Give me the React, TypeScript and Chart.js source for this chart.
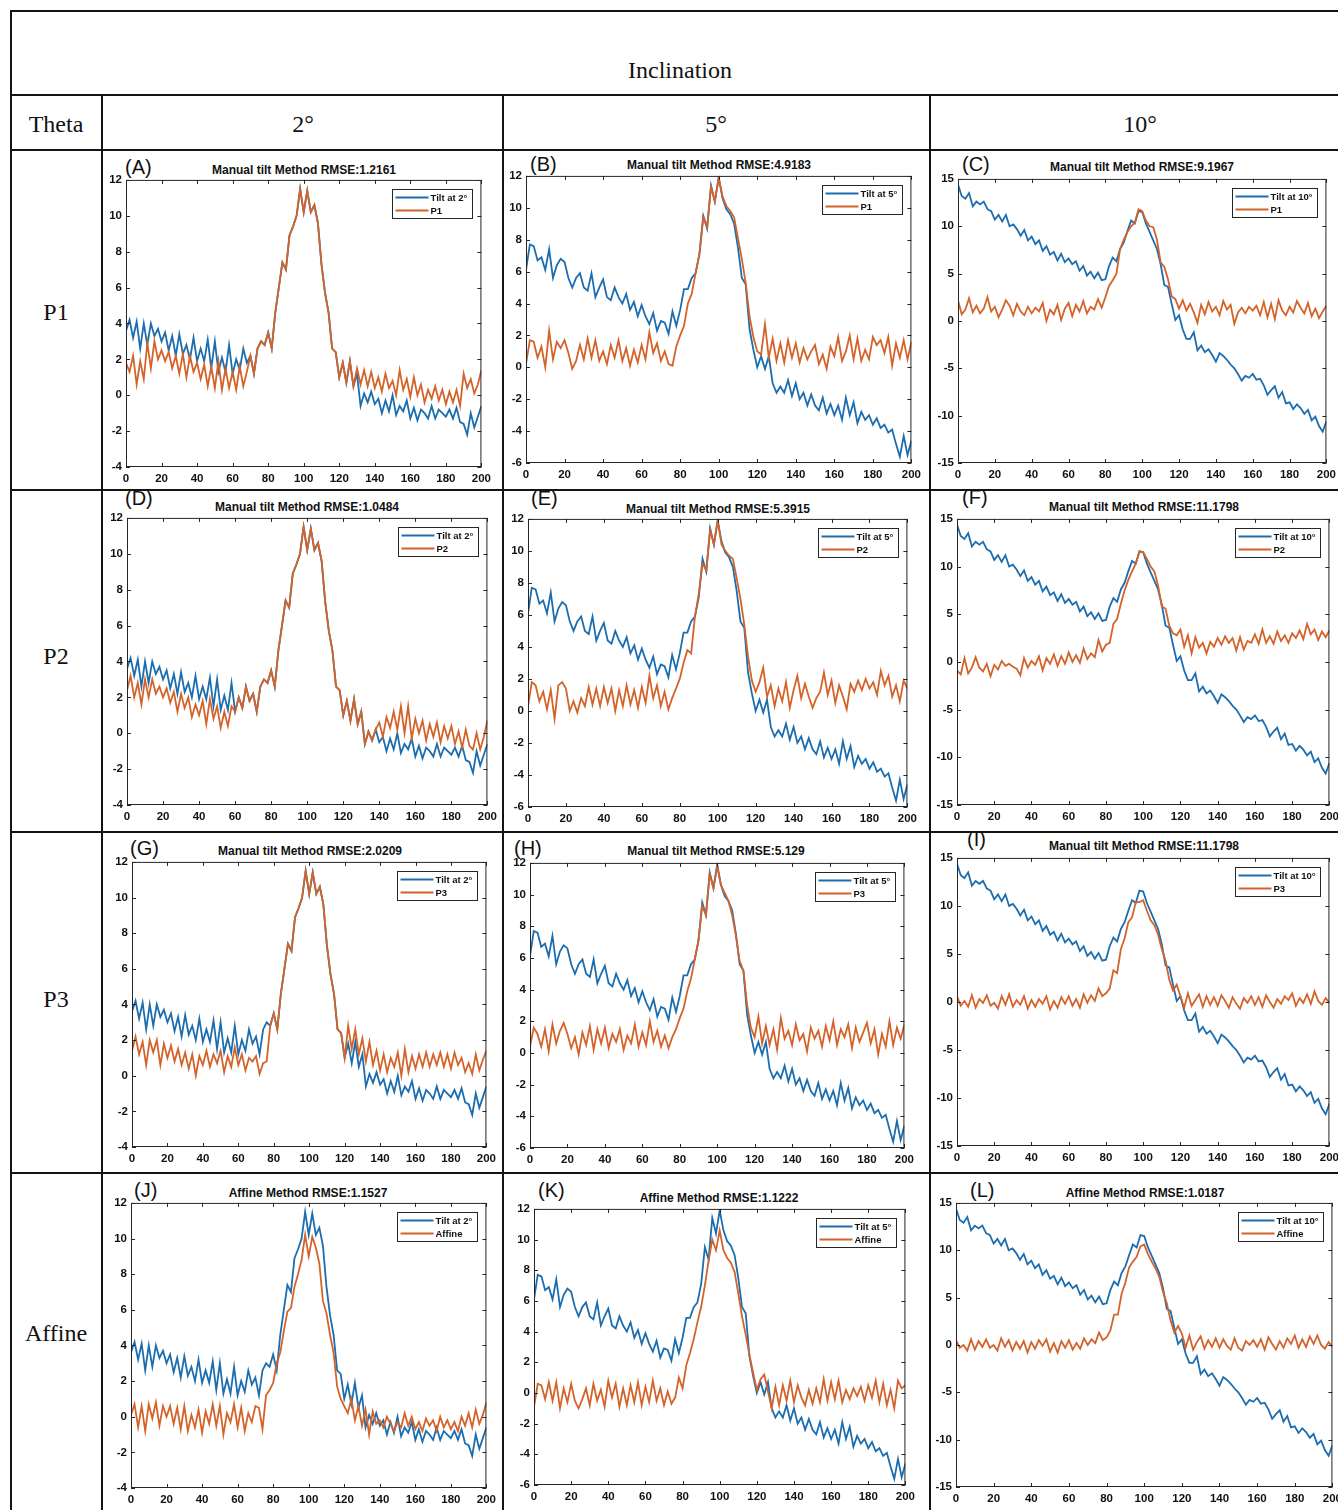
import React, { useEffect, useRef } from "react";
import { Chart, registerables } from "chart.js";

Chart.register(...registerables);

const BLUE = "#1b6daf";
const ORANGE = "#d4632a";
const AXIS = "#262626";
const SANS = '"Liberation Sans", Arial, sans-serif';
const SERIF = '"Liberation Serif", "Times New Roman", serif';

// sample positions along the profile
const X_VALUES = [
  0, 2, 4, 6, 8, 10, 12, 14, 16, 18,
  20, 22, 24, 26, 28, 30, 32, 34, 36, 38,
  40, 42, 44, 46, 48, 50, 52, 54, 56, 58,
  60, 62, 64, 66, 68, 70, 72, 74, 76, 78,
  80, 82, 84, 86, 88, 90, 92, 94, 96, 98,
  100, 102, 104, 106, 108, 110, 112, 114, 116, 118,
  120, 122, 124, 126, 128, 130, 132, 134, 136, 138,
  140, 142, 144, 146, 148, 150, 152, 154, 156, 158,
  160, 162, 164, 166, 168, 170, 172, 174, 176, 178,
  180, 182, 184, 186, 188, 190, 192, 194, 196, 198,
  200,
];

// ---------- 2 degree column ----------
const TILT_2 = [
  3.6, 4.2, 3.2, 4.1, 2.6, 4.0, 2.8, 4.0, 3.3, 3.7,
  3.0, 3.5, 2.5, 3.3, 2.2, 3.4, 2.3, 2.8, 2.0, 3.2,
  1.9, 2.6, 1.9, 3.1, 1.5, 3.0, 1.3, 2.1, 1.3, 2.8,
  1.2, 2.0, 1.4, 2.6, 1.8, 2.2, 1.2, 2.6, 3.0, 2.8,
  3.5, 2.6, 4.6, 6.0, 7.4, 7.0, 8.9, 9.4, 10.0, 11.5,
  10.2, 11.4, 10.2, 10.6, 9.6, 7.3, 5.7, 4.6, 2.6, 2.4,
  1.0, 1.8, 0.7, 1.9, 0.5, 1.2, -0.6, 0.1, -0.4, 0.2,
  -0.5, -0.2, -1.0, -0.3, -0.9, 0.0, -1.1, -0.6, -0.9, -0.3,
  -1.3, -0.7, -1.4, -0.8, -1.0, -1.3, -0.6, -1.3, -0.8, -1.0,
  -1.2, -0.8, -1.3, -0.7, -1.5, -1.6, -2.2, -1.0, -1.8, -1.2,
  -0.6,
];
const P1_2 = [
  1.8, 1.3, 2.2, 0.6, 1.9, 0.9, 2.9, 1.5, 3.0, 2.0,
  2.5, 1.9, 2.4, 1.5, 2.2, 1.2, 2.3, 1.0, 2.2, 1.3,
  1.8, 0.9, 1.7, 0.5, 1.6, 0.4, 1.9, 0.3, 1.5, 0.4,
  1.3, 0.3, 1.6, 0.5, 1.3, 2.2, 1.2, 2.6, 3.0, 2.8,
  3.5, 2.6, 4.6, 6.0, 7.4, 7.0, 8.9, 9.4, 10.0, 11.5,
  10.2, 11.4, 10.2, 10.6, 9.6, 7.3, 5.7, 4.6, 2.6, 2.4,
  1.0, 1.8, 0.7, 1.9, 0.5, 1.5, 0.6, 1.4, 0.5, 1.3,
  0.4, 1.0, 0.2, 1.2, 0.4, 0.8, 0.0, 1.4, 0.3, 0.9,
  -0.1, 1.0, 0.0, 0.6, -0.4, 0.3, -0.2, 0.5, -0.3, 0.3,
  -0.5, 0.2, -0.4, 0.3, -0.6, 1.2, 0.4, 0.9, 0.1, 0.6,
  1.4,
];
const P2_2 = [
  2.4, 3.2, 2.0, 2.8, 1.6, 3.0, 2.0, 3.0, 2.2, 2.6,
  2.0, 2.5, 1.7, 2.3, 1.2, 2.2, 1.4, 2.0, 0.9, 1.6,
  1.0, 1.8, 0.5, 1.9, 0.8, 1.5, 0.3, 1.2, 0.4, 1.5,
  1.2, 2.0, 1.4, 2.6, 1.8, 2.2, 1.2, 2.6, 3.0, 2.8,
  3.5, 2.6, 4.6, 6.0, 7.4, 7.0, 8.9, 9.4, 10.0, 11.5,
  10.2, 11.4, 10.2, 10.6, 9.6, 7.3, 5.7, 4.6, 2.6, 2.4,
  1.0, 1.8, 0.7, 1.9, 0.5, 1.2, -0.6, 0.1, -0.4, 0.2,
  0.6, -0.2, 0.9, 0.3, 1.2, 0.2, 1.5, 0.0, 1.5, -0.3,
  0.8, 0.0, 0.7, -0.4, 0.5, -0.2, 0.6, -0.5, 0.4, -0.3,
  0.4, -0.6, 0.1, -0.8, 0.2, -0.7, -0.9, 0.0, -0.9, -0.2,
  0.7,
];
const P3_2 = [
  1.4, 2.2, 1.2, 1.9, 0.6, 2.0, 1.3, 2.0, 0.6, 1.8,
  1.0, 1.7, 0.8, 1.5, 0.6, 1.3, 0.4, 1.2, 0.0, 1.1,
  0.6, 1.4, 0.5, 1.2, 0.7, 1.4, 0.2, 1.1, 0.5, 1.6,
  0.6, 1.2, 0.3, 1.0, 0.8, 1.1, 0.1, 0.7, 0.8, 2.8,
  3.5, 2.6, 4.6, 6.0, 7.4, 7.0, 8.9, 9.4, 10.0, 11.5,
  10.2, 11.4, 10.2, 10.6, 9.6, 7.3, 5.7, 4.6, 2.6, 2.4,
  1.0, 2.8, 1.5, 2.6, 1.2, 2.1, 0.8, 1.9, 0.6, 1.4,
  0.3, 1.2, 0.2, 1.0, 0.5, 1.3, 0.0, 1.5, 0.2, 1.1,
  0.4, 1.2, 0.5, 1.3, 0.5, 1.2, 0.6, 1.3, 0.5, 1.2,
  0.4, 1.3, 0.6, 1.0, 0.2, 0.7, 0.1, 1.2, 0.3, 0.9,
  1.4,
];
const AFF_2 = [
  0.1, 0.7, -0.6, 0.6, -0.8, 0.7, -0.1, 0.8, -0.5, 0.6,
  0.0, 0.6, -0.4, 0.5, -0.7, 0.6, -0.8, 0.1, -0.6, 0.4,
  -0.9, 0.3, -0.4, 0.7, -0.5, 0.6, -1.0, 0.2, -0.3, 0.7,
  -0.6, 0.5, -0.8, 0.2, -0.3, 0.6, 0.5, -0.7, 1.2, 1.5,
  1.9, 3.0, 3.6, 4.8, 5.9, 6.1, 7.3, 8.0, 8.8, 10.2,
  9.0, 10.1, 9.5, 8.6, 6.5, 5.8, 4.6, 3.6, 1.7, 1.0,
  0.6, 0.2, 1.0, -0.2, 0.6, -0.5, 0.4, -1.0, 0.3, -0.4,
  -0.2, -0.6, 0.0, -0.4, -0.8, -0.3, -0.6, 0.2, -0.5, 0.0,
  -0.7, -0.3, -0.8, -0.1, -0.5, -0.2, -0.8, 0.0, -0.6, -0.2,
  -0.7, -0.3, -0.8, 0.0, -0.5, 0.2, -0.6, 0.4, -0.4, 0.1,
  0.8,
];

// ---------- 5 degree column ----------
const TILT_5 = [
  6.1, 7.7, 7.6, 6.7, 6.9, 6.1, 7.4, 5.6, 6.4, 6.8,
  6.6, 5.6, 5.0, 5.6, 5.9, 5.0, 4.8, 5.9, 4.4, 5.0,
  5.5, 4.4, 4.2, 5.0, 4.4, 4.0, 4.6, 3.6, 4.1, 3.2,
  3.9, 3.2, 2.7, 3.4, 2.3, 2.9, 2.8, 2.1, 3.5, 2.6,
  3.6, 4.9, 4.9, 5.6, 5.9, 7.1, 9.5, 8.7, 11.4, 10.4,
  11.9, 10.6, 9.9, 9.6, 9.0, 7.5, 5.6, 5.2, 2.4, 1.1,
  0.0, 0.7, -0.1, 0.7, -1.0, -1.6, -1.2, -1.6, -0.8, -1.8,
  -1.0, -2.0, -1.6, -2.4, -1.7, -2.4, -2.7, -1.9, -2.9, -2.3,
  -3.0, -2.4, -3.3, -1.9, -3.0, -2.2, -3.5, -2.8, -3.3, -3.0,
  -3.6, -3.2, -3.8, -3.6, -4.1, -3.9, -4.8, -5.6, -4.3, -5.5,
  -4.6,
];
const P1_5 = [
  0.2, 1.7, 1.6, 0.6, 1.3, 0.0, 2.3, 0.5, 1.6, 1.2,
  1.7, 0.9, -0.1, 0.4, 1.4, 0.5, 1.8, 0.6, 1.7, 0.4,
  1.0, 0.2, 1.4, 0.6, 1.7, 0.4, 1.2, 0.1, 1.1, 0.3,
  1.4, 0.5, 2.2, 0.9, 1.5, 0.4, 1.0, 0.2, 0.1, 1.3,
  2.0, 2.6, 4.0, 4.6, 5.9, 7.1, 9.4, 8.8, 11.3, 10.4,
  11.9, 10.7, 10.1, 9.8, 9.4, 8.1, 6.8, 5.3, 3.2, 1.9,
  1.0, 0.8, 2.7, 0.6, 1.8, 0.4, 1.5, 0.3, 1.7, 0.6,
  1.5, 0.3, 1.2, 0.5, 1.0, 1.4, 0.2, 0.8, -0.1, 1.3,
  0.7, 1.9, 0.4, 1.0, 2.0, 0.5, 1.8, 0.4, 1.1, 0.5,
  1.9, 1.4, 1.7, 0.9, 1.9, 0.1, 1.5, 0.6, 1.7, 0.5,
  1.6,
];
const P2_5 = [
  0.3, 1.8, 1.6, 0.6, 1.2, 0.1, 1.3, -0.5, 1.6, 1.8,
  1.4, 0.0, 0.6, -0.1, 0.8, 0.3, 1.5, 0.4, 1.4, 0.3,
  1.5, 0.5, 1.4, 0.0, 1.3, 0.3, 1.6, 0.4, 1.3, 0.2,
  1.5, 0.5, 2.2, 0.8, 1.6, 0.3, 1.2, 0.1, 0.8, 1.4,
  2.0, 3.0, 3.8, 3.6, 5.9, 7.3, 9.2, 8.8, 11.3, 10.4,
  11.9, 10.4, 10.0, 9.7, 9.5, 8.3, 7.0, 5.4, 3.4, 1.9,
  1.2, 1.8, 2.7, 0.9, 1.6, 0.3, 1.4, 0.6, 1.8, 0.2,
  1.3, 2.2, 0.8, 1.7, 0.9, 0.2, 0.8, 1.2, 2.4, 1.0,
  1.9, 0.5, 1.6, 0.9, 0.1, 1.7, 1.2, 1.9, 1.3, 2.0,
  1.4, 1.8, 1.0, 2.5, 1.6, 2.2, 0.9, 1.6, 0.6, 1.9,
  1.4,
];
const P3_5 = [
  0.4, 1.6, 1.2, 0.4, 1.5, 0.1, 1.8, 0.6, 1.4, 1.9,
  1.2, 0.3, 1.0, -0.1, 1.3, 0.5, 1.7, 0.2, 1.5, 0.6,
  1.6, 0.3, 1.2, 0.7, 1.5, 0.2, 1.1, 0.6, 1.8, 0.4,
  1.3, 0.5, 2.0, 0.7, 1.4, 0.4, 1.1, 0.3, 1.0, 1.5,
  2.2, 2.8, 3.9, 4.7, 5.9, 7.1, 9.3, 8.7, 11.3, 10.4,
  11.8, 10.6, 10.1, 9.6, 8.7, 7.4, 5.8, 5.2, 3.0, 1.6,
  1.0, 2.3, 0.6, 1.7, 0.5, 1.5, 0.2, 2.2, 0.9, 1.4,
  0.5, 1.8, 0.8, 1.2, 0.1, 1.6, 0.9, 1.4, 0.4, 1.7,
  0.8, 2.0, 0.5, 1.5, 1.0, 1.8, 0.3, 1.6, 0.7, 1.3,
  1.9, 0.6, 1.5, -0.1, 1.2, 0.4, 2.0, 0.5, 1.6, 0.9,
  1.8,
];
const AFF_5 = [
  -0.9, 0.6, 0.5, -0.4, 0.7, -0.5, 0.7, -1.0, 0.3, -0.6,
  0.6, -0.5, -1.0, -0.4, 0.3, -0.8, 0.6, -0.5, 0.2, -0.9,
  0.8, -0.3, 0.6, -0.9, 0.3, -0.8, 0.5, -0.6, 0.7, -0.8,
  0.4, -0.6, 0.8, -0.5, 0.3, -0.8, 0.1, -0.7, -0.3, 1.0,
  0.3, 1.8, 2.6, 3.5, 4.6, 5.6, 7.0, 8.6, 10.0, 9.3,
  10.6, 9.3, 8.8, 8.5, 7.9, 6.5, 5.0, 3.8, 2.5, 1.3,
  0.2, 0.9, 1.2, 0.1, -1.0, 0.4, -0.8, 0.5, -0.5, 0.8,
  -0.6, 0.5, -0.3, -0.8, 0.2, -0.7, 0.3, -0.6, 0.9, -0.5,
  0.7, -0.4, 0.8, -0.6, 0.2, -0.4, 0.3, -0.2, 0.4, -0.5,
  0.5, -0.3, 0.8, -0.6, 0.6, -0.8, 0.2, -1.0, 0.8, 0.3,
  0.5,
];

// ---------- 10 degree column ----------
const TILT_10 = [
  14.4, 13.2, 12.9, 13.5, 12.1, 12.6, 12.3, 12.6, 11.8, 11.6,
  10.7, 11.2, 10.5, 11.2, 10.0, 10.2, 9.7, 9.0, 9.6, 8.5,
  8.9, 8.1, 8.5, 7.4, 7.9, 7.0, 7.3, 6.4, 7.1, 6.2,
  6.6, 6.0, 6.3, 5.3, 5.8, 4.8, 5.2, 4.5, 5.1, 4.3,
  4.4, 5.8, 6.7, 6.3, 7.6, 8.3, 9.5, 10.6, 10.3, 11.6,
  11.5, 10.3, 9.4, 8.5, 7.6, 6.0, 3.8, 3.6, 1.8, 0.1,
  0.6, -0.9, -1.9, -1.9, -1.2, -3.1, -2.6, -3.3, -3.0, -3.6,
  -4.3, -3.4, -3.7, -4.1, -4.6, -5.0, -5.6, -6.3, -5.8, -6.0,
  -5.6, -6.2, -6.1, -6.8, -7.8, -7.3, -6.9, -8.1, -7.5, -8.7,
  -8.6, -9.3, -8.8, -9.2, -9.8, -9.4, -10.5, -10.1, -11.1, -11.7,
  -10.6,
];
const P1_10 = [
  2.2, 0.7, 1.2, 2.4, 0.9, 1.6, 0.8, 1.3, 2.5, 1.0,
  1.5, 0.4, 1.2, 2.2, 1.6, 0.6, 1.8, 1.0, 0.6, 1.5,
  0.8, 1.4, 1.0, 1.9, 0.0, 1.2, 0.7, 1.7, 0.1, 1.3,
  1.9, 0.5, 1.7, 1.0, 2.1, 0.8, 1.5, 1.2, 2.3, 1.4,
  2.5, 3.7, 4.3, 5.0, 7.6, 8.6, 9.4, 10.0, 10.4, 11.8,
  11.6, 10.6, 10.0, 9.9, 8.6, 6.2, 5.7, 4.4, 2.6, 2.3,
  1.3, 2.2, 1.1, 1.8, 0.9, -0.2, 1.7, 0.7, 2.0, 1.0,
  1.5, 0.6, 2.1, 1.2, 1.7, -0.3, 0.9, 1.4, 0.8, 1.5,
  1.1, 1.6, 0.6, 2.0, 0.4, 1.8, 0.2, 2.2, 1.1, 0.6,
  1.5, 0.9, 2.1, 1.4, 0.8, 1.9, 0.5, 1.3, 0.3, 1.0,
  1.6,
];
const P2_10 = [
  -0.9, -1.3, 0.4, -1.2, -0.6, 0.5, -0.6, -1.0, -0.2, -1.5,
  -0.3, -0.8, 0.1, -0.4, -0.2, -0.5, -0.7, -1.4, 0.4, -0.6,
  0.1, -0.3, 0.6, -0.9, 0.4, -0.2, 0.8, -0.4, 0.6, -0.2,
  1.0, 0.0, 0.7, -0.1, 1.4, 0.3, 0.9, 0.5, 2.3, 1.1,
  1.8, 2.0, 4.0, 4.5, 6.1, 7.5, 8.6, 9.5, 10.3, 11.6,
  11.5, 10.8, 10.0, 9.5, 8.0, 5.8, 5.6, 3.8, 3.0, 2.8,
  3.4, 1.6, 2.8, 0.9, 2.6, 1.5, 2.0, 0.9, 2.1, 1.6,
  2.5, 1.8, 2.7, 2.0, 2.5, 1.2, 2.6, 1.3, 2.2, 2.0,
  2.9, 1.9, 3.4, 2.0, 2.7, 1.9, 3.2, 2.2, 2.8, 2.0,
  3.0, 2.5, 3.3, 2.4, 4.0, 2.9, 3.4, 2.3, 3.2, 2.6,
  3.3,
];
const P3_10 = [
  0.6, -0.4, 0.1, -0.5, 0.7, -0.6, 0.3, -0.1, 0.7, -0.4,
  -0.1, -0.7, 0.6, -0.3, 0.8, -0.5, 0.2, -0.3, 0.6, -0.7,
  0.2, -0.5, 0.3, -0.2, 0.6, -0.8, 0.1, -0.6, 0.5, -0.2,
  0.6, -0.4, 0.3, -0.6, 0.8, -0.1, 0.7, 0.1, 1.4, 0.6,
  0.9, 1.4, 3.3, 3.0, 5.5, 6.6, 8.3, 8.8, 10.4, 10.4,
  10.6, 9.5, 8.5, 8.0, 7.0, 5.5, 4.3, 2.3, 1.2, 1.8,
  0.6, -0.6, 0.9, -0.4, 0.2, 0.8, -0.5, 0.6, -0.3, 0.5,
  -0.4, 0.7, 0.1, -0.6, 0.5, -0.2, -0.7, 0.4, -0.1, 0.6,
  -0.3, 0.5, -0.5, 0.7, 0.0, -0.6, 0.3, -0.2, 0.6, 0.2,
  0.9, -0.4, 0.4, -0.1, 0.8, -0.2, 1.1, 0.1, -0.3, 0.4,
  -0.1,
];
const AFF_10 = [
  0.5, -0.3, 0.0, -0.6, 0.6, -0.5, 0.4, -0.2, 0.6, -0.3,
  0.0, -0.6, 0.7, -0.2, 0.5, -0.6, 0.3, -0.4, 0.4, -0.8,
  0.3, -0.4, 0.5, -0.1, 0.6, -0.7, 0.2, -0.8, 0.4, -0.3,
  0.5, -0.5, 0.2, -0.4, 0.7, 0.0, 0.6, 0.2, 1.3, 0.5,
  0.8, 1.5, 3.2, 3.2, 5.4, 6.6, 8.2, 8.8, 9.3, 10.4,
  10.6, 9.6, 8.8, 8.1, 7.2, 5.6, 4.4, 2.6, 1.3, 2.0,
  1.2, -0.3, 1.0, -0.5, 0.3, 0.9, -0.4, 0.5, -0.2, 0.7,
  -0.3, 0.6, -0.1, -0.5, 0.7, -0.3, -0.6, 0.4, 0.0, 0.5,
  -0.2, 0.6, -0.5, 0.8, 0.1, -0.5, 0.4, -0.3, 0.7, 0.1,
  1.0, -0.3, 0.6, -0.2, 0.9, 0.1, 1.0, 0.0, -0.4, 0.3,
  -0.2,
];

// axis ranges
const RANGE_2 = { min: -4, max: 12, step: 2 };
const RANGE_5 = { min: -6, max: 12, step: 2 };
const RANGE_10 = { min: -15, max: 15, step: 5 };
const X_RANGE = { min: 0, max: 200, step: 20 };

type Range = { min: number; max: number; step: number };
type PanelSpec = {
  letter: string;
  title: string;
  tilt: number[];
  tiltLabel: string;
  method: number[];
  methodLabel: string;
  range: Range;
  box: [number, number, number, number]; // left, right, top, bottom of plot area
  letterPos: [number, number];
  titlePos: [number, number];
};

const PANELS: PanelSpec[] = [
  { letter: "(A)", title: "Manual tilt Method RMSE:1.2161", tilt: TILT_2, tiltLabel: "Tilt at 2°", method: P1_2, methodLabel: "P1", range: RANGE_2, box: [126, 482, 179, 467], letterPos: [125, 174], titlePos: [304, 174] },
  { letter: "(B)", title: "Manual tilt Method RMSE:4.9183", tilt: TILT_5, tiltLabel: "Tilt at 5°", method: P1_5, methodLabel: "P1", range: RANGE_5, box: [526, 912, 175, 463], letterPos: [530, 171], titlePos: [719, 169] },
  { letter: "(C)", title: "Manual tilt Method RMSE:9.1967", tilt: TILT_10, tiltLabel: "Tilt at 10°", method: P1_10, methodLabel: "P1", range: RANGE_10, box: [958, 1327, 178, 463], letterPos: [962, 171], titlePos: [1142, 171] },
  { letter: "(D)", title: "Manual tilt Method RMSE:1.0484", tilt: TILT_2, tiltLabel: "Tilt at 2°", method: P2_2, methodLabel: "P2", range: RANGE_2, box: [127, 488, 517, 805], letterPos: [125, 505], titlePos: [307, 511] },
  { letter: "(E)", title: "Manual tilt Method RMSE:5.3915", tilt: TILT_5, tiltLabel: "Tilt at 5°", method: P2_5, methodLabel: "P2", range: RANGE_5, box: [528, 908, 518, 807], letterPos: [531, 505], titlePos: [718, 513] },
  { letter: "(F)", title: "Manual tilt Method RMSE:11.1798", tilt: TILT_10, tiltLabel: "Tilt at 10°", method: P2_10, methodLabel: "P2", range: RANGE_10, box: [957, 1330, 518, 805], letterPos: [962, 504], titlePos: [1144, 511] },
  { letter: "(G)", title: "Manual tilt Method RMSE:2.0209", tilt: TILT_2, tiltLabel: "Tilt at 2°", method: P3_2, methodLabel: "P3", range: RANGE_2, box: [132, 487, 861, 1147], letterPos: [130, 855], titlePos: [310, 855] },
  { letter: "(H)", title: "Manual tilt Method RMSE:5.129", tilt: TILT_5, tiltLabel: "Tilt at 5°", method: P3_5, methodLabel: "P3", range: RANGE_5, box: [530, 905, 862, 1148], letterPos: [514, 855], titlePos: [716, 855] },
  { letter: "(I)", title: "Manual tilt Method RMSE:11.1798", tilt: TILT_10, tiltLabel: "Tilt at 10°", method: P3_10, methodLabel: "P3", range: RANGE_10, box: [957, 1330, 857, 1146], letterPos: [967, 846], titlePos: [1144, 850] },
  { letter: "(J)", title: "Affine Method RMSE:1.1527", tilt: TILT_2, tiltLabel: "Tilt at 2°", method: AFF_2, methodLabel: "Affine", range: RANGE_2, box: [131, 487, 1202, 1488], letterPos: [134, 1197], titlePos: [308, 1197] },
  { letter: "(K)", title: "Affine Method RMSE:1.1222", tilt: TILT_5, tiltLabel: "Tilt at 5°", method: AFF_5, methodLabel: "Affine", range: RANGE_5, box: [534, 906, 1208, 1485], letterPos: [538, 1197], titlePos: [719, 1202] },
  { letter: "(L)", title: "Affine Method RMSE:1.0187", tilt: TILT_10, tiltLabel: "Tilt at 10°", method: AFF_10, methodLabel: "Affine", range: RANGE_10, box: [956, 1333, 1202, 1487], letterPos: [970, 1197], titlePos: [1145, 1197] },
];

const YW = 34; // y-axis band width
const XH = 24; // x-axis band height
const PT = 10; // top padding
const PR = 14; // right padding
const TICK = 4;

const framePlugin = {
  id: "frameLegend",
  afterDraw(chart: any, _args: any, opts: any) {
    const { ctx, chartArea: a, scales } = chart;
    ctx.save();
    ctx.strokeStyle = AXIS;
    ctx.lineWidth = 1;
    ctx.strokeRect(a.left + 0.5, a.top + 0.5, a.right - a.left - 1, a.bottom - a.top - 1);
    ctx.beginPath();
    for (const t of scales.x.ticks) {
      const px = Math.round(scales.x.getPixelForValue(t.value)) + 0.5;
      ctx.moveTo(px, a.bottom);
      ctx.lineTo(px, a.bottom - TICK);
      ctx.moveTo(px, a.top);
      ctx.lineTo(px, a.top + TICK);
    }
    for (const t of scales.y.ticks) {
      const py = Math.round(scales.y.getPixelForValue(t.value)) + 0.5;
      ctx.moveTo(a.left, py);
      ctx.lineTo(a.left + TICK, py);
      ctx.moveTo(a.right, py);
      ctx.lineTo(a.right - TICK, py);
    }
    ctx.stroke();

    // legend box (top-right, inside axes)
    const labels: string[] = opts.labels;
    const colors: string[] = opts.colors;
    ctx.font = `bold 9.5px ${SANS}`;
    const tw = Math.max(...labels.map((s) => ctx.measureText(s).width));
    const w = Math.round(38 + tw + 5);
    const h = 29;
    const x0 = Math.round(a.right - 9 - w) + 0.5;
    const y0 = Math.round(a.top + 9) + 0.5;
    ctx.fillStyle = "#ffffff";
    ctx.fillRect(x0, y0, w, h);
    ctx.strokeStyle = AXIS;
    ctx.lineWidth = 1;
    ctx.strokeRect(x0, y0, w, h);
    labels.forEach((s, i) => {
      const yy = y0 + 8 + i * 13;
      ctx.strokeStyle = colors[i];
      ctx.lineWidth = 1.8;
      ctx.beginPath();
      ctx.moveTo(x0 + 3, yy);
      ctx.lineTo(x0 + 36, yy);
      ctx.stroke();
      ctx.fillStyle = "#111";
      ctx.textBaseline = "middle";
      ctx.textAlign = "left";
      ctx.fillText(s, x0 + 38, yy + 0.5);
    });
    ctx.restore();
  },
};

function Panel({ spec }: { spec: PanelSpec }) {
  const ref = useRef<HTMLCanvasElement | null>(null);
  const [l, r, t, b] = spec.box;
  const w = r - l + YW + PR;
  const h = b - t + PT + XH;

  useEffect(() => {
    if (!ref.current) return;
    const tickFont = { family: SANS, size: 11.5, weight: "bold" as const };
    const chart = new Chart(ref.current, {
      type: "line",
      data: {
        labels: X_VALUES,
        datasets: [
          {
            label: spec.tiltLabel,
            data: spec.tilt,
            borderColor: BLUE,
            borderWidth: 1.8,
            pointRadius: 0,
            tension: 0,
            fill: false,
            order: 1,
          },
          {
            label: spec.methodLabel,
            data: spec.method,
            borderColor: ORANGE,
            borderWidth: 1.8,
            pointRadius: 0,
            tension: 0,
            fill: false,
            order: 0,
          },
        ],
      },
      options: {
        responsive: false,
        animation: false,
        devicePixelRatio: 1,
        layout: { padding: { left: 0, top: PT, right: PR, bottom: 0 } },
        plugins: {
          legend: { display: false },
          title: { display: false },
          tooltip: { enabled: false },
          frameLegend: { labels: [spec.tiltLabel, spec.methodLabel], colors: [BLUE, ORANGE] },
        } as any,
        scales: {
          x: {
            type: "linear",
            min: X_RANGE.min,
            max: X_RANGE.max,
            grid: { display: false, drawTicks: false },
            border: { display: false },
            ticks: {
              stepSize: X_RANGE.step,
              autoSkip: false,
              maxRotation: 0,
              padding: 5,
              color: "#111",
              font: tickFont,
            },
            afterFit: (s: any) => {
              s.height = XH;
            },
          },
          y: {
            type: "linear",
            min: spec.range.min,
            max: spec.range.max,
            grid: { display: false, drawTicks: false },
            border: { display: false },
            ticks: {
              stepSize: spec.range.step,
              autoSkip: false,
              padding: 4,
              color: "#111",
              font: tickFont,
            },
            afterFit: (s: any) => {
              s.width = YW;
            },
          },
        },
      },
      plugins: [framePlugin as any],
    });
    return () => chart.destroy();
  }, [spec]);

  return (
    <canvas
      ref={ref}
      width={w}
      height={h}
      style={{ position: "absolute", left: l - YW, top: t - PT, width: w, height: h }}
    />
  );
}

const H_LINES = [11, 95, 150, 490, 832, 1173];
const V_LINES: [number, number][] = [
  [11, 10],
  [102, 95],
  [503, 95],
  [930, 95],
];
const COL_HEADERS: [string, number][] = [
  ["2°", 303],
  ["5°", 716],
  ["10°", 1140],
];
const ROW_HEADERS: [string, number][] = [
  ["P1", 320],
  ["P2", 664],
  ["P3", 1007],
  ["Affine", 1341],
];

export default function App() {
  return (
    <div
      style={{
        position: "absolute",
        left: 0,
        top: 0,
        width: 1338,
        height: 1510,
        overflow: "hidden",
        background: "#ffffff",
      }}
    >
      <svg width={1338} height={1510} style={{ position: "absolute", left: 0, top: 0 }}>
        <g stroke="#141414" strokeWidth={2}>
          {H_LINES.map((y) => (
            <line key={"h" + y} x1={10} y1={y} x2={1338} y2={y} />
          ))}
          {V_LINES.map(([x, y0]) => (
            <line key={"v" + x} x1={x} y1={y0} x2={x} y2={1510} />
          ))}
        </g>
        <text x={680} y={78} fontFamily={SERIF} fontSize={24} textAnchor="middle" fill="#111">
          Inclination
        </text>
        <text x={56} y={132} fontFamily={SERIF} fontSize={24} textAnchor="middle" fill="#111">
          Theta
        </text>
        {COL_HEADERS.map(([s, x]) => (
          <text key={s} x={x} y={132} fontFamily={SERIF} fontSize={24} textAnchor="middle" fill="#111">
            {s}
          </text>
        ))}
        {ROW_HEADERS.map(([s, y]) => (
          <text key={s} x={56} y={y} fontFamily={SERIF} fontSize={24} textAnchor="middle" fill="#111">
            {s}
          </text>
        ))}
        {PANELS.map((p) => (
          <text key={"l" + p.letter} x={p.letterPos[0]} y={p.letterPos[1]} fontFamily={SANS} fontSize={20} fill="#111">
            {p.letter}
          </text>
        ))}
        {PANELS.map((p) => (
          <text
            key={"t" + p.letter}
            x={p.titlePos[0]}
            y={p.titlePos[1]}
            fontFamily={SANS}
            fontSize={12}
            fontWeight="bold"
            textAnchor="middle"
            fill="#111"
          >
            {p.title}
          </text>
        ))}
      </svg>
      {PANELS.map((p) => (
        <Panel key={p.letter} spec={p} />
      ))}
    </div>
  );
}
